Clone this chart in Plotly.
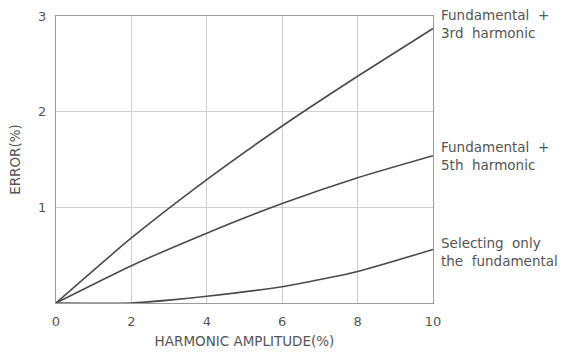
import plotly.graph_objects as go

# Harmonic amplitude (%) and resulting error (%) for each case
amplitude = [0, 2, 4, 6, 8, 10]
err_3rd = [0, 0.68, 1.29, 1.85, 2.37, 2.87]
err_5th = [0, 0.39, 0.73, 1.04, 1.31, 1.54]
amp_fund = [0, 2, 3, 4, 6, 8, 10]
err_fund = [0, 0.0, 0.03, 0.07, 0.17, 0.33, 0.56]

labels = [
    ("Fundamental  +<br>3rd  harmonic", 2.92),
    ("Fundamental  +<br>5th  harmonic", 1.54),
    ("Selecting  only<br>the  fundamental", 0.53),
]

line_col = "#4a4a4a"
txt_col = "#555555"
font = "DejaVu Sans"

fig = go.Figure()
fig.add_trace(go.Scatter(x=amplitude, y=err_3rd, mode="lines",
                         line=dict(color=line_col, width=1.6, shape="spline", smoothing=0.6)))
fig.add_trace(go.Scatter(x=amplitude, y=err_5th, mode="lines",
                         line=dict(color=line_col, width=1.6, shape="spline", smoothing=0.6)))
fig.add_trace(go.Scatter(x=amp_fund, y=err_fund, mode="lines",
                         line=dict(color=line_col, width=1.6, shape="spline", smoothing=0.6)))

for text, yv in labels:
    fig.add_annotation(x=1, xref="paper", y=yv, yref="y", text=text, showarrow=False,
                       xanchor="left", yanchor="middle", align="left", xshift=6,
                       font=dict(family=font, size=13.5, color=txt_col))

fig.update_xaxes(range=[0, 10], tickvals=[0, 2, 4, 6, 8, 10], automargin=False,
                 showgrid=True, gridcolor="#cfcfcf", gridwidth=1,
                 showline=True, linecolor="#9a9a9a", mirror=True, zeroline=False,
                 ticks="", ticklabelstandoff=6,
                 tickfont=dict(family=font, size=13, color=txt_col),
                 title=dict(text="HARMONIC AMPLITUDE(%)", standoff=8,
                            font=dict(family=font, size=13.5, color=txt_col)))
fig.update_yaxes(range=[0, 3], tickvals=[0, 1, 2, 3], ticktext=["", "1", "2", "3"],
                 automargin=False,
                 showgrid=True, gridcolor="#cfcfcf", gridwidth=1,
                 showline=True, linecolor="#9a9a9a", mirror=True, zeroline=False,
                 ticks="", ticklabelstandoff=6,
                 tickfont=dict(family=font, size=13, color=txt_col),
                 title=dict(text="ERROR(%)", standoff=14,
                            font=dict(family=font, size=13.5, color=txt_col)))

fig.update_layout(width=573, height=356, showlegend=False,
                  margin=dict(l=56, r=140, t=16, b=53),
                  plot_bgcolor="white", paper_bgcolor="white")

fig.write_html("out.html")
